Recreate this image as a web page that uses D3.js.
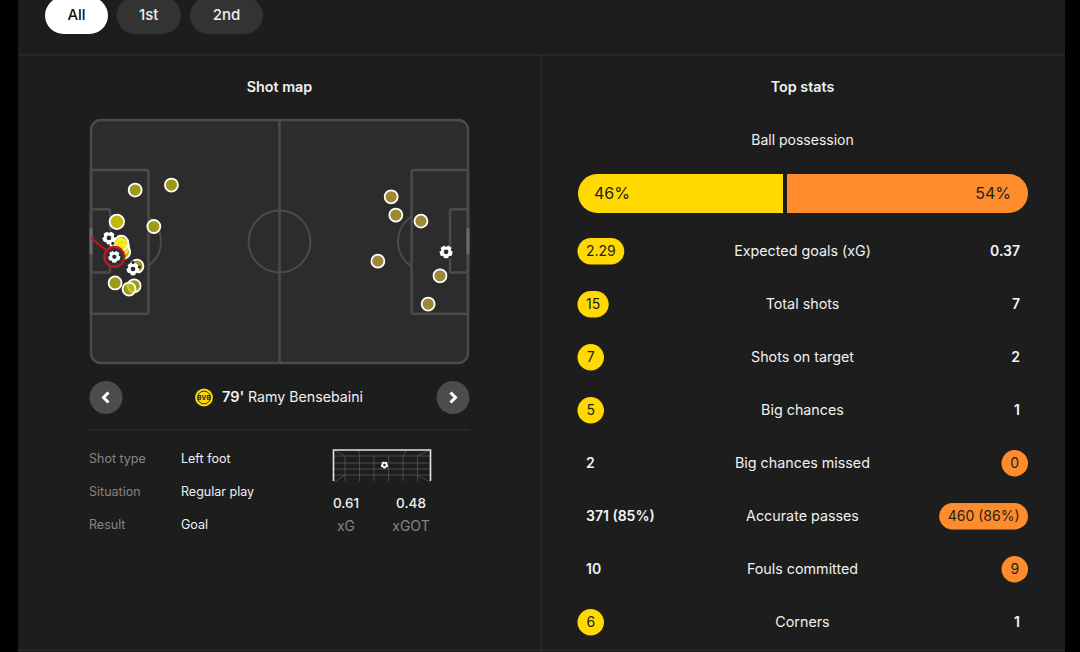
<!DOCTYPE html>
<html>
<head>
<meta charset="utf-8">
<script src="https://cdn.jsdelivr.net/npm/d3@7"></script>
<style>
  html, body { margin: 0; padding: 0; background: #000; overflow: hidden; }
  text { font-family: Inter, "Noto Sans", sans-serif; }
</style>
</head>
<body>
<svg id="chart" width="1080" height="652"></svg>
<script>
// period tabs
var tabLabels = ["All", "1st", "2nd"];

// shots in pitch metres (105 x 68)
var homeShotX = [12.3, 22.4, 7.2, 17.5, 7.5, 8.6, 8.9, 8.4, 12.8, 6.7, 12.0, 10.6, 5.0, 11.7, 6.5];
var homeShotY = [19.6, 18.2, 28.5, 29.8, 35.0, 35.5, 36.9, 34.4, 40.9, 45.6, 46.4, 47.3, 33.0, 41.7, 38.3];
var homeShotResult = ["miss", "miss", "saved", "miss", "saved", "saved", "saved", "saved", "miss", "miss", "miss", "miss", "goal", "goal", "selected"];
var awayShotX = [83.6, 84.9, 91.9, 79.9, 97.2, 93.9, 98.9];
var awayShotY = [21.5, 26.6, 28.3, 39.5, 43.6, 51.5, 36.9];
var awayShotResult = ["miss", "miss", "miss", "miss", "miss", "miss", "goal"];

// selected shot
var detailLabels = ["Shot type", "Situation", "Result"];
var detailValues = ["Left foot", "Regular play", "Goal"];
var xgLabels = ["xG", "xGOT"];
var xgValues = ["0.61", "0.48"];

// top stats
var possession = [46, 54];
var statLabels = ["Expected goals (xG)", "Total shots", "Shots on target", "Big chances", "Big chances missed", "Accurate passes", "Fouls committed", "Corners"];
var homeStats = ["2.29", "15", "7", "5", "2", "371 (85%)", "10", "6"];
var awayStats = ["0.37", "7", "2", "1", "0", "460 (86%)", "9", "1"];
var statWinner = ["home", "home", "home", "home", "away", "away", "away", "home"];

var yellow = "#ffd900";
var orange = "#ff8c2c";
var card = "#1d1d1d";

var svg = d3.select("#chart");

// page background and card
svg.append("rect").attr("x", 18).attr("y", 0).attr("width", 1047).attr("height", 652).attr("fill", card);
var rules = [[18, 55, 1065, 55], [541, 55, 541, 652], [18, 650, 1065, 650], [90, 430, 469, 430]];
svg.selectAll("line.rule").data(rules).enter().append("line")
  .attr("class", "rule")
  .attr("x1", function(d) { return d[0]; })
  .attr("y1", function(d) { return d[1]; })
  .attr("x2", function(d) { return d[2]; })
  .attr("y2", function(d) { return d[3]; })
  .attr("stroke", "#2a2a2a").attr("stroke-width", 1.5);

// tabs
var tabX = [45, 116.5, 190];
var tabW = [63, 64.5, 73];
var tabs = svg.selectAll("g.tab").data(tabLabels).enter().append("g").attr("class", "tab");
tabs.append("rect")
  .attr("x", function(d, i) { return tabX[i]; })
  .attr("y", -3).attr("height", 37).attr("rx", 18.5)
  .attr("width", function(d, i) { return tabW[i]; })
  .attr("fill", function(d, i) { return i == 0 ? "#fff" : "#333"; });
tabs.append("text")
  .attr("x", function(d, i) { return tabX[i] + tabW[i] / 2; })
  .attr("y", 20).attr("text-anchor", "middle")
  .attr("font-size", 15).attr("font-weight", 500)
  .attr("fill", function(d, i) { return i == 0 ? "#111" : "#eee"; })
  .text(function(d) { return d; });

function heading(x, y, s, size, weight) {
  svg.append("text").attr("x", x).attr("y", y).attr("text-anchor", "middle")
    .attr("font-size", size).attr("font-weight", weight).attr("fill", "#f0f0f0").text(s);
}
heading(279.5, 92, "Shot map", 14.3, 600);
heading(802.5, 92, "Top stats", 14.3, 600);
heading(802.5, 145, "Ball possession", 14, 400);

// pitch
var px = d3.scaleLinear().domain([0, 105]).range([91, 468]);
var py = d3.scaleLinear().domain([0, 68]).range([120, 363]);
var lineColor = "#4b4b4b";
var pitch = svg.append("g");

pitch.append("rect")
  .attr("x", px(0)).attr("y", py(0))
  .attr("width", px(105) - px(0)).attr("height", py(68) - py(0))
  .attr("rx", 10).attr("fill", "#2c2c2c").attr("stroke", lineColor).attr("stroke-width", 2.5);

pitch.append("clipPath").attr("id", "outsideBoxes").append("path")
  .attr("clip-rule", "evenodd")
  .attr("d", "M" + px(0) + "," + py(0) + "H" + px(105) + "V" + py(68) + "H" + px(0) + "Z" +
    "M" + px(0) + "," + py(14) + "H" + px(16) + "V" + py(54.2) + "H" + px(0) + "Z" +
    "M" + px(89.3) + "," + py(14) + "H" + px(105) + "V" + py(54.2) + "H" + px(89.3) + "Z");

// penalty arcs sit behind the boxes
[11.2, 93.8].forEach(function(m) {
  pitch.append("circle").attr("cx", px(m)).attr("cy", py(34)).attr("r", px(8.3) - px(0))
    .attr("fill", "none").attr("stroke", lineColor).attr("stroke-width", 2)
    .attr("clip-path", "url(#outsideBoxes)");
});

pitch.append("line").attr("x1", px(52.5)).attr("x2", px(52.5)).attr("y1", py(0)).attr("y2", py(68))
  .attr("stroke", lineColor).attr("stroke-width", 2.5);
pitch.append("circle").attr("cx", px(52.5)).attr("cy", py(34)).attr("r", px(8.6) - px(0))
  .attr("fill", "none").attr("stroke", lineColor).attr("stroke-width", 2);

function box(x0, x1, y0, y1) {
  pitch.append("rect").attr("x", px(x0)).attr("y", py(y0))
    .attr("width", px(x1) - px(x0)).attr("height", py(y1) - py(y0))
    .attr("rx", 1.5).attr("fill", "none").attr("stroke", lineColor).attr("stroke-width", 2.5);
}
box(0, 16, 14, 54.2);
box(89.3, 105, 14, 54.2);
box(0, 5.3, 25, 42.7);
box(100, 105, 25, 42.7);

// goal mouths
[0, 105].forEach(function(m) {
  pitch.append("line").attr("x1", px(m)).attr("x2", px(m)).attr("y1", py(30.3)).attr("y2", py(37.6))
    .attr("stroke", "#6a6a6a").attr("stroke-width", 3);
});

// ball icon, centre plus five rim patches
function ball(parent, x, y, r) {
  var g = parent.append("g").attr("transform", "translate(" + x + "," + y + ")");
  g.append("circle").attr("r", r).attr("fill", "#fff");
  g.append("circle").attr("r", r * 0.36).attr("fill", "#2c2c2c");
  d3.range(5).forEach(function(i) {
    var a = i * 2 * Math.PI / 5 - Math.PI / 2;
    g.append("circle").attr("cx", Math.cos(a) * r * 1.02).attr("cy", Math.sin(a) * r * 1.02)
      .attr("r", r * 0.24).attr("fill", "#2c2c2c");
  });
}

function drawShots(xs, ys, results, dim, bright) {
  xs.forEach(function(x, i) {
    if (results[i] == "goal" || results[i] == "selected") return;
    pitch.append("circle").attr("cx", px(x)).attr("cy", py(ys[i])).attr("r", results[i] == "saved" ? 7.2 : 6.5)
      .attr("fill", results[i] == "saved" ? bright : dim)
      .attr("fill-opacity", 0.75)
      .attr("stroke", "#fff").attr("stroke-width", 1.8);
  });
  xs.forEach(function(x, i) {
    if (results[i] == "goal") ball(pitch, px(x), py(ys[i]), 6.5);
    if (results[i] == "selected") {
      pitch.append("line").attr("x1", px(0)).attr("y1", py(33)).attr("x2", px(x)).attr("y2", py(ys[i]))
        .attr("stroke", "#d0121f").attr("stroke-width", 1.8);
      pitch.append("circle").attr("cx", px(x)).attr("cy", py(ys[i])).attr("r", 10)
        .attr("fill", "#27373b").attr("stroke", "#d0121f").attr("stroke-width", 2.2);
      ball(pitch, px(x), py(ys[i]), 6);
    }
  });
}
drawShots(homeShotX, homeShotY, homeShotResult, "#c4bc10", "#f4ea00");
drawShots(awayShotX, awayShotY, awayShotResult, "#c4a538", "#f0b820");

// shot navigator
var navX = [106, 453];
navX.forEach(function(x, i) {
  svg.append("circle").attr("cx", x).attr("cy", 397.5).attr("r", 16.5).attr("fill", "#4c4c4c");
  var dir = i == 0 ? 1 : -1;
  svg.append("path")
    .attr("d", "M" + (x + dir * 2.5) + ",392.5 L" + (x - dir * 2.5) + ",397.5 L" + (x + dir * 2.5) + ",402.5")
    .attr("fill", "none").attr("stroke", "#fff").attr("stroke-width", 3);
});
svg.append("circle").attr("cx", 204).attr("cy", 397.5).attr("r", 9).attr("fill", "#f5d90a");
svg.append("circle").attr("cx", 204).attr("cy", 397.5).attr("r", 6.4).attr("fill", "none").attr("stroke", "#222").attr("stroke-width", 0.9);
svg.append("text").attr("x", 204).attr("y", 400).attr("text-anchor", "middle")
  .attr("font-size", 6.5).attr("font-weight", 700).attr("fill", "#222").text("BVB");
svg.append("text").attr("x", 222).attr("y", 402).attr("font-size", 14.5).attr("font-weight", 600).attr("fill", "#f4f4f4").text("79'");
svg.append("text").attr("x", 248).attr("y", 402).attr("font-size", 14.2).attr("font-weight", 400).attr("fill", "#f0f0f0").text("Ramy Bensebaini");

// shot details
var detailY = d3.scalePoint().domain(detailLabels).range([463, 529]);
svg.selectAll("text.dl").data(detailLabels).enter().append("text")
  .attr("class", "dl").attr("x", 89).attr("y", function(d) { return detailY(d); })
  .attr("font-size", 12.5).attr("fill", "#858585").text(function(d) { return d; });
svg.selectAll("text.dv").data(detailValues).enter().append("text")
  .attr("class", "dv").attr("x", 181).attr("y", function(d, i) { return detailY(detailLabels[i]); })
  .attr("font-size", 12.5).attr("fill", "#f0f0f0").text(function(d) { return d; });

// goal frame with net
var goal = svg.append("g");
var netX = d3.range(345, 431, 14.5);
netX.forEach(function(x) {
  goal.append("line").attr("x1", x).attr("x2", x).attr("y1", 456).attr("y2", 481).attr("stroke", "#555").attr("stroke-width", 0.8);
});
[456, 463, 469, 475].forEach(function(y) {
  goal.append("line").attr("x1", 334).attr("x2", 430).attr("y1", y).attr("y2", y).attr("stroke", "#555").attr("stroke-width", 0.8);
});
[[334, 450, 345, 456], [430, 450, 417, 456], [334, 482, 345, 475], [430, 482, 417, 475], [358, 450, 360, 456], [406, 450, 403, 456]].forEach(function(d) {
  goal.append("line").attr("x1", d[0]).attr("y1", d[1]).attr("x2", d[2]).attr("y2", d[3]).attr("stroke", "#555").attr("stroke-width", 0.8);
});
goal.append("path").attr("d", "M333.5,481V450H430.5V481").attr("fill", "none").attr("stroke", "#e4e4e4").attr("stroke-width", 1.6);
ball(goal, 384.5, 465, 3.6);

var xgX = d3.scalePoint().domain(xgLabels).range([346, 411]);
svg.selectAll("text.xv").data(xgValues).enter().append("text")
  .attr("class", "xv").attr("text-anchor", "middle").attr("y", 508)
  .attr("x", function(d, i) { return xgX(xgLabels[i]); })
  .attr("font-size", 13.5).attr("font-weight", 500).attr("fill", "#f0f0f0").text(function(d) { return d; });
svg.selectAll("text.xl").data(xgLabels).enter().append("text")
  .attr("class", "xl").attr("text-anchor", "middle").attr("y", 531)
  .attr("x", function(d) { return xgX(d); })
  .attr("font-size", 14).attr("fill", "#858585").text(function(d) { return d; });

// possession bar
var bar = d3.scaleLinear().domain([0, 100]).range([578, 1028]);
svg.append("clipPath").attr("id", "barClip").append("rect")
  .attr("x", bar(0)).attr("y", 174).attr("width", bar(100) - bar(0)).attr("height", 39).attr("rx", 19.5);
svg.append("g").attr("clip-path", "url(#barClip)").selectAll("rect").data(possession).enter().append("rect")
  .attr("x", function(d, i) { return i == 0 ? bar(0) : bar(possession[0]) + 2; })
  .attr("y", 174).attr("height", 39)
  .attr("width", function(d) { return bar(d) - bar(0) - 2; })
  .attr("fill", function(d, i) { return i == 0 ? yellow : orange; });
svg.append("text").attr("x", 594).attr("y", 199).attr("font-size", 16).attr("fill", "#222").text(possession[0] + "%");
svg.append("text").attr("x", 1011).attr("y", 199).attr("text-anchor", "end").attr("font-size", 16).attr("fill", "#222").text(possession[1] + "%");

// stat rows
var rowY = d3.scalePoint().domain(statLabels).range([251, 622]);
statLabels.forEach(function(label, i) {
  var y = rowY(label);
  svg.append("text").attr("x", 802.5).attr("y", y + 5).attr("text-anchor", "middle")
    .attr("font-size", 14.3).attr("fill", "#f0f0f0").text(label);

  var winner = statWinner[i];
  var left = svg.append("text").attr("x", 586).attr("y", y + 5).attr("font-size", 14)
    .attr("font-weight", winner == "home" ? 400 : 600)
    .attr("fill", winner == "home" ? "#222" : "#f4f4f4").text(homeStats[i]);
  var right = svg.append("text").attr("x", 1020).attr("y", y + 5).attr("text-anchor", "end").attr("font-size", 14)
    .attr("font-weight", winner == "away" ? 400 : 600)
    .attr("fill", winner == "away" ? "#222" : "#f4f4f4").text(awayStats[i]);

  // pill width follows the text, so it goes in after measuring
  var t = winner == "home" ? left : right;
  var w = Math.max(t.node().getComputedTextLength() + 17, 26.5);
  var pillX = winner == "home" ? 577.5 : 1028 - w;
  t.attr("x", pillX + w / 2).attr("text-anchor", "middle");
  svg.insert("rect", function() { return t.node(); })
    .attr("x", pillX).attr("y", y - 13).attr("width", w).attr("height", 26.5).attr("rx", 13.25)
    .attr("fill", winner == "home" ? yellow : orange);
});
</script>
</body>
</html>
